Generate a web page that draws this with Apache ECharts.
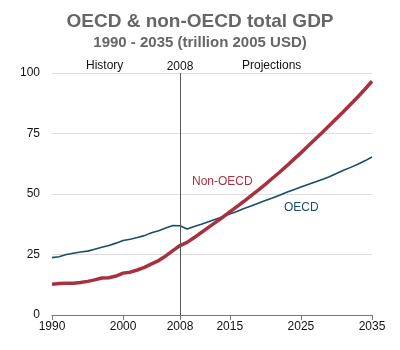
<!DOCTYPE html>
<html>
<head>
<meta charset="utf-8">
<script src="https://cdn.jsdelivr.net/npm/echarts@6/dist/echarts.min.js"></script>
<style>
  html, body {margin: 0; padding: 0; background: #fff;}
  #chart {width: 400px; height: 350px;}
</style>
</head>
<body>
<div id="chart"></div>
<script>
// years 1990..2035
const years = [];
for (let y = 1990; y <= 2035; y++) {
  years.push(String(y));
}

const tickYears = ["1990", "2000", "2008", "2015", "2025", "2035"];

// OECD total GDP, trillion 2005 USD
const oecd = [
  23.7, 24.1, 25.0, 25.5, 26.0, 26.4, 27.2, 28.0, 28.7, 29.7,
  30.8, 31.3, 32.0, 32.8, 34.0, 34.8, 35.9, 37.0, 36.9, 35.5,
  36.6, 37.5, 38.5, 39.6, 40.6, 41.7, 42.8, 44.0, 45.0, 46.2,
  47.3, 48.3, 49.5, 50.7, 51.8, 52.9, 53.9, 55.0, 56.0, 57.1,
  58.5, 59.8, 61.0, 62.3, 63.7, 65.3,
];

// non-OECD total GDP
const nonOecd = [
  12.7, 13.0, 13.1, 13.1, 13.4, 13.9, 14.5, 15.3, 15.4, 16.1,
  17.3, 17.7, 18.6, 19.7, 21.1, 22.5, 24.4, 26.6, 28.7, 30.0,
  32.0, 34.1, 36.2, 38.3, 40.4, 42.6, 44.8, 47.0, 49.3, 51.6,
  54.0, 56.5, 59.0, 61.6, 64.3, 67.0, 69.8, 72.6, 75.4, 78.3,
  81.2, 84.1, 87.1, 90.1, 93.3, 96.6,
];

const chart = echarts.init(document.getElementById("chart"));

const showTick = (index, value) => tickYears.indexOf(value) >= 0;

const option = {
  animation: false,
  title: {
    text: "OECD & non-OECD total GDP",
    subtext: "1990 - 2035 (trillion 2005 USD)",
    left: "center",
    top: 7,
    itemGap: 4,
    textStyle: {fontFamily: "Liberation Sans", fontWeight: "bold", fontSize: 19, color: "#666"},
    subtextStyle: {fontFamily: "Liberation Sans", fontWeight: "bold", fontSize: 15, color: "#666"},
  },
  grid: {left: 52, right: 28, top: 73, bottom: 35},
  xAxis: {
    type: "category",
    data: years,
    boundaryGap: false,
    axisLine: {lineStyle: {color: "#777"}},
    axisTick: {interval: showTick, length: 5, lineStyle: {color: "#777"}},
    axisLabel: {interval: showTick, color: "#111", fontSize: 12, fontFamily: "Liberation Sans", margin: 6},
    splitLine: {show: false},
  },
  yAxis: {
    type: "value",
    min: 0,
    max: 100,
    interval: 25,
    axisLine: {show: false},
    axisTick: {show: false},
    axisLabel: {color: "#111", fontSize: 12, fontFamily: "Liberation Sans", margin: 12},
    splitLine: {lineStyle: {color: "#ddd"}},
  },
  graphic: [
    {type: "text", left: 86, top: 60, style: {text: "History", fontSize: 12, fontFamily: "Liberation Sans", fill: "#111"}},
    {type: "text", left: 242, top: 60, style: {text: "Projections", fontSize: 12, fontFamily: "Liberation Sans", fill: "#111"}},
    {type: "text", left: 192, top: 176, style: {text: "Non-OECD", fontSize: 12, fontFamily: "Liberation Sans", fill: "#a83244"}},
    {type: "text", left: 284, top: 202, style: {text: "OECD", fontSize: 12, fontFamily: "Liberation Sans", fill: "#1b4d66"}},
  ],
  series: [
    {
      name: "OECD",
      type: "line",
      data: oecd,
      symbol: "none",
      lineStyle: {color: "#164e6a", width: 1.6},
      markLine: {
        silent: true,
        symbol: "none",
        lineStyle: {color: "#555", width: 1, type: "solid"},
        label: {show: true, position: "end", formatter: "2008", distance: 0, color: "#111", fontSize: 12, fontFamily: "Liberation Sans"},
        data: [{xAxis: "2008"}],
      },
    },
    {
      name: "Non-OECD",
      type: "line",
      data: nonOecd,
      symbol: "none",
      lineStyle: {color: "#a8313f", width: 3.5},
    },
  ],
};

chart.setOption(option);
</script>
</body>
</html>
